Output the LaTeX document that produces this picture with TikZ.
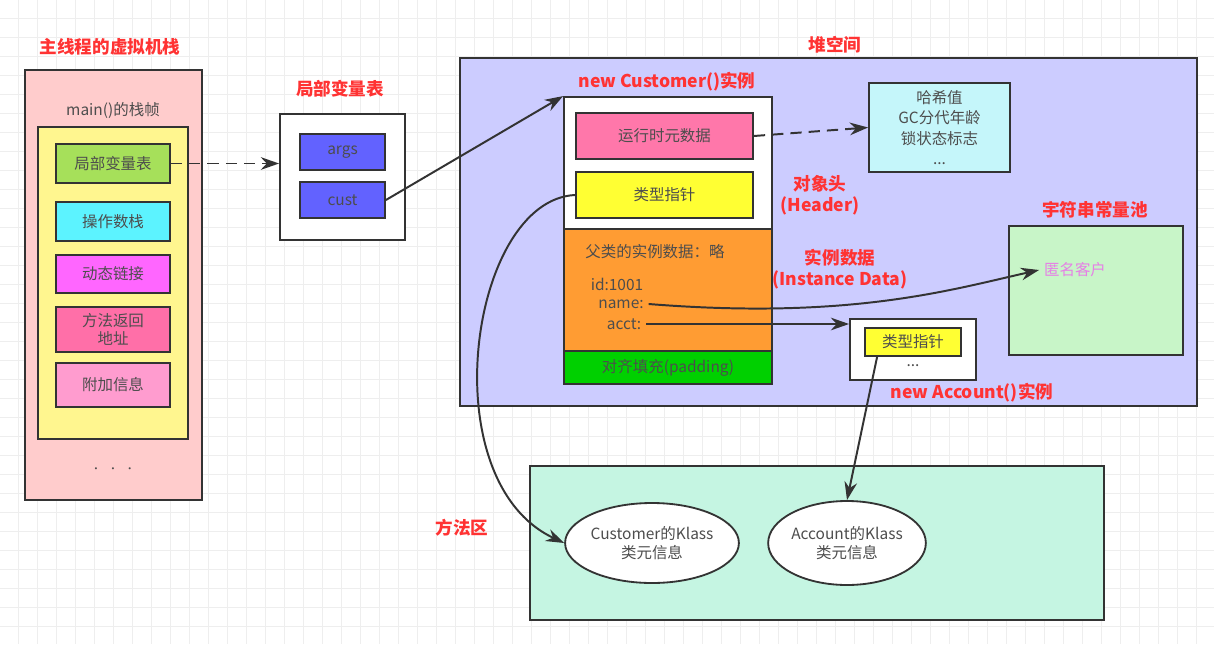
\documentclass[tikz,border=0pt]{standalone}
\usepackage{fontspec}
\setmainfont{Noto Sans CJK SC}
\usetikzlibrary{arrows.meta,shapes.geometric}
\newcommand{\ux}{0.025cm}
\definecolor{redtxt}{HTML}{FF3333}
\definecolor{txtgray}{HTML}{4D4D4D}
\definecolor{lineclr}{HTML}{333333}
\definecolor{stackpink}{HTML}{FFCCCC}
\definecolor{frameyellow}{HTML}{FFF68F}
\definecolor{lvtgreen}{HTML}{A6E05A}
\definecolor{opcyan}{HTML}{5CF3FF}
\definecolor{dynpink}{HTML}{FF66FF}
\definecolor{retpink}{HTML}{FF6FA8}
\definecolor{extpink}{HTML}{FF9CCF}
\definecolor{argsblue}{HTML}{6262FF}
\definecolor{heapblue}{HTML}{CCCCFF}
\definecolor{hashcyan}{HTML}{C5F6FA}
\definecolor{metapink}{HTML}{FF77AA}
\definecolor{ptryellow}{HTML}{FFFF33}
\definecolor{objorange}{HTML}{FF9C33}
\definecolor{padgreen}{HTML}{00D000}
\definecolor{poolgreen}{HTML}{C8F5C8}
\definecolor{methodmint}{HTML}{C5F5E2}
\definecolor{anonpink}{HTML}{E67FE6}
\begin{document}
\begin{tikzpicture}[x=0.025cm, y=-0.025cm,
    every node/.style={font=\fontsize{11}{13}\selectfont, text=txtgray},
    blk/.style 2 args={draw=lineclr, line width=1.3pt, minimum width=#1*\ux, minimum height=#2*\ux, inner sep=0pt},
    redlabel/.style={text=redtxt, font=\fontsize{12.5}{15}\selectfont\bfseries, align=center},
    link/.style={draw=lineclr, line width=1.4pt, -{Stealth[length=13pt,width=9pt]}},
    gridline/.style={draw=gray!13, line width=0.5pt}]
    \useasboundingbox (0,0) rectangle (1214,644);
    \foreach \g in {18,37,...,1214} {\draw[gridline] (\g,0) -- (\g,644);}
    \foreach \g in {18,37,...,644} {\draw[gridline] (0,\g) -- (1214,\g);}

    % virtual machine stack of the main thread
    \node[redlabel] (stacktitle) at (110,47) {主线程的虚拟机栈};
    \node[blk={177}{430}, fill=stackpink] (stack) at (113.5,285) {};
    \node (mainlbl) at (113,110) {main()的栈帧};
    \node[blk={150}{312}, fill=frameyellow] (frame) at (113,283) {};
    \node[blk={114}{39}, fill=lvtgreen] (lvt) at (113,163.5) {局部变量表};
    \node[blk={114}{39}, fill=opcyan] (opstack) at (113,221.5) {操作数栈};
    \node[blk={114}{38}, fill=dynpink] (dynlink) at (113,274) {动态链接};
    \node[blk={114}{45}, fill=retpink, align=center] (retaddr) at (113,329.5) {方法返回\\地址};
    \node[blk={114}{44}, fill=extpink] (extra) at (113,385) {附加信息};
    \node[font=\fontsize{7}{8}\selectfont] (dots) at (113,470) {•\hspace{5pt}•\hspace{5pt}•};

    % local variable table
    \node[redlabel] (lvttitle) at (340,89) {局部变量表};
    \node[blk={125}{126}, fill=white] (lvtbox) at (342.5,177) {};
    \node[blk={85}{36}, fill=argsblue] (args) at (342.5,152) {args};
    \node[blk={85}{36}, fill=argsblue] (cust) at (342.5,200) {cust};

    % heap
    \node[redlabel] (heaptitle) at (835,45) {堆空间};
    \node[blk={737}{348}, fill=heapblue] (heap) at (828.5,232) {};
    \node[redlabel] (custtitle) at (667,82) {new Customer()实例};
    \node[blk={208}{132}, fill=white] (header) at (668,163) {};
    \node[blk={208}{122}, fill=objorange] (body) at (668,290) {};
    \node[blk={208}{33}, fill=padgreen] (padding) at (668,367.5) {对齐填充(padding)};
    \node[blk={177}{46}, fill=metapink] (meta) at (664.5,136) {运行时元数据};
    \node[blk={177}{46}, fill=ptryellow] (cptr) at (664.5,195) {类型指针};
    \node (superlbl) at (655,252) {父类的实例数据：略};
    \node (fid) at (617,284) {id:1001};
    \node (fname) at (621,304) {name:};
    \node (facct) at (624,324) {acct:};
    \node[redlabel] (headerlbl) at (820,195) {对象头\\(Header)};
    \node[redlabel] (datalbl) at (840,269) {实例数据\\(Instance Data)};
    \node[blk={141}{89}, fill=hashcyan, align=center, font=\fontsize{11}{14.5}\selectfont] (hash) at (939.5,127.5) {哈希值\\GC分代年龄\\锁状态标志\\...};
    \node[redlabel] (pooltitle) at (1095,210) {宇符串常量池};
    \node[blk={174}{129}, fill=poolgreen] (pool) at (1096,290.5) {};
    \node[text=anonpink] (anon) at (1075,270) {匿名客户};
    \node[blk={126}{61}, fill=white] (acct) at (913,349.5) {};
    \node[blk={96}{28}, fill=ptryellow] (aptr) at (913,342) {类型指针};
    \node (adots) at (913,366) {...};
    \node[redlabel] (accttitle) at (972,393) {new Account()实例};

    % method area
    \node[redlabel] (methodtitle) at (462,528) {方法区};
    \node[blk={574}{154}, fill=methodmint] (method) at (817,543) {};
    \node[blk={171}{80}, ellipse, fill=white, align=center] (cklass) at (652,543) {Customer的Klass\\类元信息};
    \node[blk={156}{84}, ellipse, fill=white, align=center] (aklass) at (847,543) {Account的Klass\\类元信息};

    % references
    \draw[link, dash pattern=on 8pt off 5pt] (lvt.east) -- (lvt.east -| lvtbox.west);
    \draw[link] (cust.east) -- (header.north west);
    \draw[link, dash pattern=on 8pt off 5pt] (meta.east) -- (hash.west);
    \draw[link] (cptr.west) .. controls (470,200) and (430,480) .. (cklass.west);
    \draw[link] (fname.east) .. controls (850,320) and (950,290) .. (anon.west);
    \draw[link] (facct.east) -- (facct.east -| acct.west);
    \draw[link] ([xshift=13*\ux]aptr.south west) -- (aklass.north);
\end{tikzpicture}
\end{document}
